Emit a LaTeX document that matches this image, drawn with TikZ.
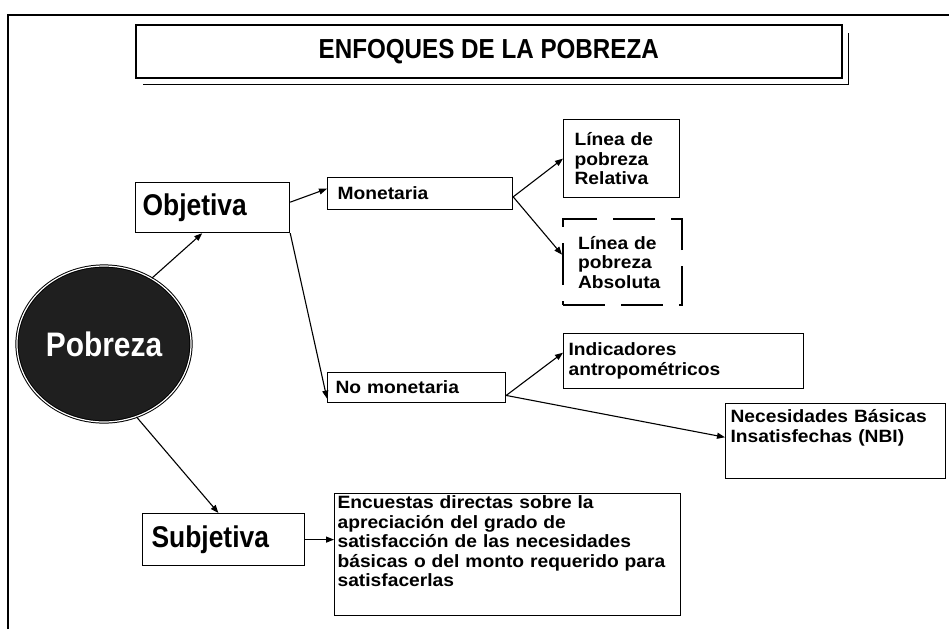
\documentclass[tikz,border=0pt]{standalone}
\usepackage{fontspec}
\setmainfont{Liberation Sans}
\newfontfamily\narrowsans[FakeStretch=0.88]{Liberation Sans}
\newfontfamily\widesans[FakeStretch=1.08]{Liberation Sans}
\usetikzlibrary{arrows.meta,shapes.geometric}

\tikzset{
  box/.style={draw, line width=1.2pt, anchor=north west, align=left},
  bigtext/.style={font={\narrowsans\bfseries\fontsize{30}{36}\selectfont}},
  smalltext/.style={font={\widesans\bfseries\fontsize{17.8}{19.5}\selectfont}},
  link/.style={line width=1.1pt, -{Triangle[length=8pt,width=6pt]}}
}

\begin{document}
\begin{tikzpicture}[x=1pt,y=-1pt]

  \useasboundingbox (0,0) rectangle (949,629);

  % Frame
  \draw[line width=1.5pt] (8,629) -- (8,15) -- (949,15);

  % Title
  \node[box, line width=1.5pt, align=center, minimum width=706pt, minimum height=53pt,
        font={\narrowsans\bfseries\fontsize{27.5}{32}\selectfont}] (title) at (135,24) {ENFOQUES DE LA POBREZA};
  \draw[line width=1pt] ([shift={(6,9)}]title.north east) |- ([shift={(8,6)}]title.south west);

  % Centre
  \node[ellipse, draw, line width=1pt, double=white, double distance=1.2pt, fill=black!88,
        minimum width=168pt, minimum height=156pt, text=white,
        font={\narrowsans\bfseries\fontsize{34}{40}\selectfont}] (pobreza) at (104,344) {Pobreza};

  % First level
  \node[box, bigtext, inner xsep=7pt, text width=140pt, minimum height=50pt] (objetiva) at (135,182) {Objetiva};
  \node[box, bigtext, inner xsep=9pt, text width=144pt, minimum height=52pt] (subjetiva) at (142,513) {Subjetiva};

  % Second level
  \node[box, smalltext, inner xsep=10pt, text width=165pt, minimum height=32pt] (monetaria) at (327,177) {Monetaria};
  \node[box, smalltext, inner xsep=8pt, text width=162pt, minimum height=30pt] (nomonetaria) at (327,372) {No monetaria};
  \node[box, smalltext, inner xsep=3pt, inner ysep=2pt, text width=340pt, text depth=105pt] (encuestas) at (334,493)
    {Encuestas directas sobre la\\apreciación del grado de\\satisfacción de las necesidades\\básicas o del monto requerido para\\satisfacerlas};

  % Third level
  \node[box, smalltext, inner xsep=11pt, text width=94pt, minimum height=78pt] (relativa) at (563,119)
    {Línea de\\pobreza\\Relativa};
  \node[box, smalltext, line width=2.2pt, dash pattern=on 42pt off 16pt, inner xsep=15pt, text width=89pt,
        minimum height=86pt] (absoluta) at (562,218) {Línea de\\pobreza\\Absoluta};
  \node[box, smalltext, inner xsep=5pt, text width=230pt, minimum height=55pt] (indicadores) at (563,333)
    {Indicadores\\antropométricos};
  \node[box, smalltext, inner xsep=5pt, inner ysep=6pt, text width=210pt, text depth=50pt] (nbi) at (725,403)
    {Necesidades Básicas\\Insatisfechas (NBI)};

  % Arrows
  \draw[link] (pobreza.54) -- (objetiva.248);
  \draw[link] (pobreza.-66) -- (subjetiva.101);
  \draw[link] (objetiva.4) -- (monetaria.177);
  \draw[link] (objetiva.south east) -- (nomonetaria.187);
  \draw[link] (monetaria.-2) -- (relativa.west);
  \draw[link] (monetaria.-2) -- (absoluta.173);
  \draw[link] (nomonetaria.-5) -- (indicadores.176);
  \draw[link] (nomonetaria.-5) -- (nbi.178);
  \draw[link] (subjetiva.east) -- (subjetiva.east -| encuestas.west);

\end{tikzpicture}
\end{document}
